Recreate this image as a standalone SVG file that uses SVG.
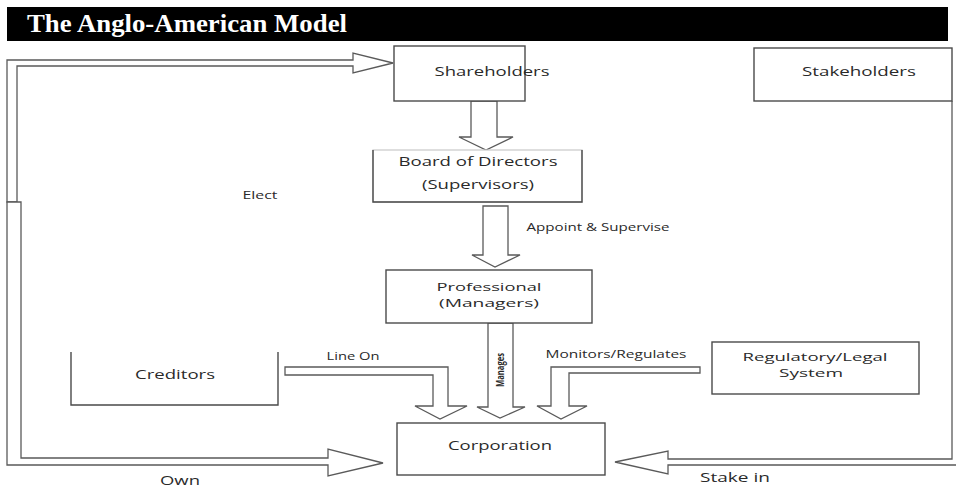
<svg xmlns="http://www.w3.org/2000/svg" width="956" height="488" viewBox="0 0 956 488">
  <style>
    .box { fill: #ffffff; stroke: #4a4a4a; stroke-width: 1.4; }
    .conn { fill: #ffffff; stroke: #5a5a5a; stroke-width: 1.3; stroke-linejoin: miter; }
    .lbl { font-family: "Open Sans", "DejaVu Sans", sans-serif; font-size: 12px; fill: #2a2a2a; text-anchor: middle; dominant-baseline: central; }
    .two { font-size: 11px; }
    .sm { font-size: 10px; }
    .title { font-family: "Liberation Serif", "Times New Roman", serif; font-weight: bold; font-size: 26px; fill: #ffffff; }
  </style>

  <rect x="0" y="0" width="956" height="488" fill="#ffffff"/>

  <!-- title bar -->
  <g id="title">
    <rect x="7" y="7" width="941" height="34" fill="#000000"/>
    <text class="title" x="27" y="32" textLength="320" lengthAdjust="spacingAndGlyphs">The Anglo-American Model</text>
  </g>

  <!-- connectors (block arrows) -->
  <g id="connectors">
    <!-- Elect: loop from left up to Shareholders -->
    <polygon class="conn" points="17,202 7,202 7,60 353,60 353,53 393,63 353,73 353,66 17,66"/>
    <!-- Own: loop from left down to Corporation -->
    <polygon class="conn" points="7,202 7,465 328,465 328,476 383,463 328,449 328,458 21,458 21,202"/>
    <!-- Shareholders -> Board -->
    <polygon class="conn" points="471,101 471,137 459,137 486,150 513,137 497,137 497,101"/>
    <!-- Appoint & Supervise -->
    <polygon class="conn" points="483,206 483,255 472,255 495,267 520,255 508,255 508,206"/>
    <!-- Manages -->
    <polygon class="conn" points="488,323 488,407 477,407 500,418 525,407 513,407 513,323"/>
    <!-- Line On: Creditors -> Corporation -->
    <polygon class="conn" points="285,367 448,367 448,406 467,406 440,419 415,406 433,406 433,375 285,375"/>
    <!-- Monitors/Regulates: Regulatory -> Corporation -->
    <polygon class="conn" points="700,367 551,367 551,406 537,406 561,419 587,406 569,406 569,373 700,373"/>
    <!-- Stake in: Stakeholders -> Corporation -->
    <polyline class="conn" points="956,465 668,465 668,474 615,462 668,451 668,459 952,459 952,101"/>

    <text class="lbl sm" x="260" y="195" textLength="35" lengthAdjust="spacingAndGlyphs">Elect</text>
    <text class="lbl sm" x="598" y="227" textLength="143" lengthAdjust="spacingAndGlyphs">Appoint &amp; Supervise</text>
    <text class="lbl sm" x="353" y="356" textLength="53" lengthAdjust="spacingAndGlyphs">Line On</text>
    <text class="lbl sm" x="616" y="354" textLength="141" lengthAdjust="spacingAndGlyphs">Monitors/Regulates</text>
    <text class="lbl" x="180" y="480" textLength="40" lengthAdjust="spacingAndGlyphs">Own</text>
    <text class="lbl" x="735" y="477" textLength="70" lengthAdjust="spacingAndGlyphs">Stake in</text>
    <text class="lbl sm" x="0" y="0" font-weight="bold" fill="#111" textLength="34" lengthAdjust="spacingAndGlyphs" transform="translate(500,370) rotate(-90)">Manages</text>
  </g>

  <g id="shareholders">
    <rect class="box" x="394" y="46" width="131" height="55"/>
    <text class="lbl" x="492" y="71" textLength="115" lengthAdjust="spacingAndGlyphs">Shareholders</text>
  </g>

  <g id="stakeholders">
    <rect class="box" x="754" y="48" width="198" height="53"/>
    <text class="lbl" x="859" y="71" textLength="114" lengthAdjust="spacingAndGlyphs">Stakeholders</text>
  </g>

  <g id="board">
    <rect x="373" y="150" width="209" height="52" fill="#ffffff" stroke="#c8c8c8" stroke-width="1.2"/>
    <polyline points="373,150 373,202 582,202 582,150" fill="none" stroke="#4a4a4a" stroke-width="1.4"/>
    <text class="lbl" x="478" y="161" textLength="159" lengthAdjust="spacingAndGlyphs">Board of Directors</text>
    <text class="lbl" x="478" y="184" textLength="112" lengthAdjust="spacingAndGlyphs">(Supervisors)</text>
  </g>

  <g id="professional">
    <rect class="box" x="386" y="270" width="206" height="53"/>
    <text class="lbl two" x="489" y="286" textLength="105" lengthAdjust="spacingAndGlyphs">Professional</text>
    <text class="lbl two" x="489" y="302" textLength="100" lengthAdjust="spacingAndGlyphs">(Managers)</text>
  </g>

  <g id="creditors">
    <polyline points="71,352 71,405 278,405 278,352" fill="none" stroke="#4a4a4a" stroke-width="1.4"/>
    <text class="lbl" x="175" y="374" textLength="80" lengthAdjust="spacingAndGlyphs">Creditors</text>
  </g>

  <g id="regulatory">
    <rect class="box" x="712" y="342" width="207" height="52"/>
    <text class="lbl two" x="815" y="356" textLength="145" lengthAdjust="spacingAndGlyphs">Regulatory/Legal</text>
    <text class="lbl two" x="811" y="372" textLength="64" lengthAdjust="spacingAndGlyphs">System</text>
  </g>

  <g id="corporation">
    <rect class="box" x="397" y="423" width="208" height="52"/>
    <text class="lbl" x="500" y="445" textLength="104" lengthAdjust="spacingAndGlyphs">Corporation</text>
  </g>
</svg>
